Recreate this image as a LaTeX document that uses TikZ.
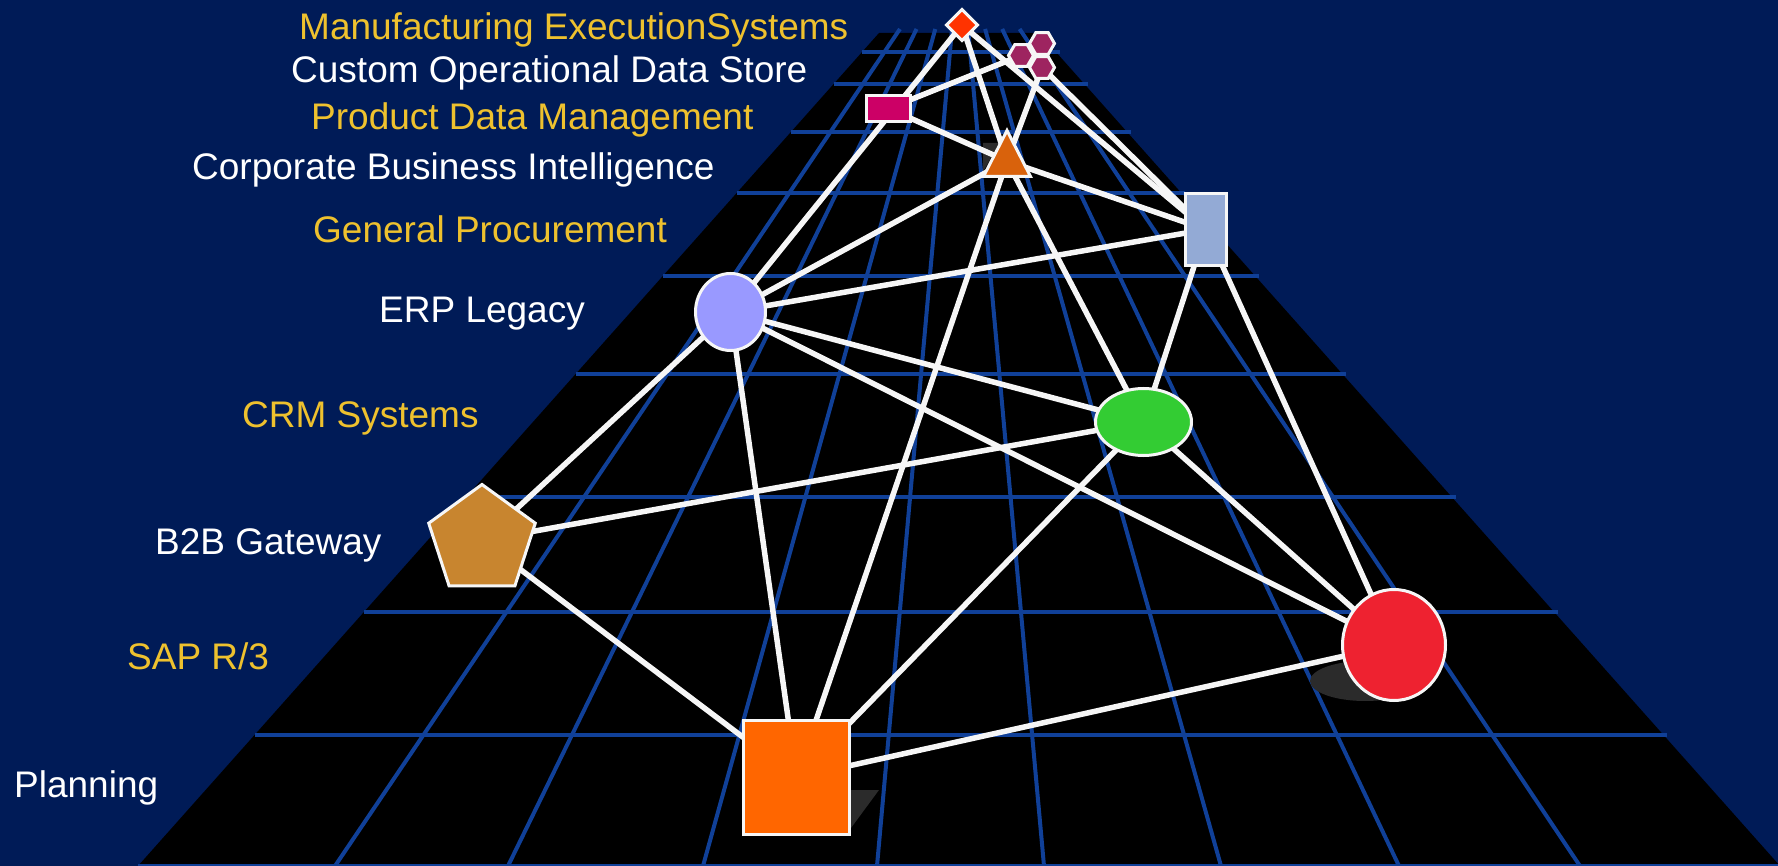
\documentclass[tikz,border=0pt]{standalone}
\usepackage{fontspec}
\setmainfont{Liberation Sans}
\usetikzlibrary{shapes.geometric}
\definecolor{navy}{RGB}{0,27,87}
\definecolor{gridblue}{RGB}{16,64,152}
\definecolor{labelyellow}{RGB}{238,193,46}
\definecolor{shadowgrey}{RGB}{43,43,43}
\definecolor{linkwhite}{RGB}{246,246,246}
\definecolor{mesred}{RGB}{255,51,0}
\definecolor{odspurple}{RGB}{158,36,96}
\definecolor{pdmmagenta}{RGB}{204,0,102}
\definecolor{cbiorange}{RGB}{217,98,12}
\definecolor{gpblue}{RGB}{147,170,213}
\definecolor{erplav}{RGB}{153,153,255}
\definecolor{crmgreen}{RGB}{51,204,51}
\definecolor{b2bbrown}{RGB}{200,133,47}
\definecolor{sapred}{RGB}{238,34,48}
\definecolor{planorange}{RGB}{255,102,0}
\pgfdeclarelayer{floorlayer}
\pgfdeclarelayer{edgelayer}
\pgfsetlayers{floorlayer,edgelayer,main}
\tikzset{
  gridline/.style={draw=gridblue, line width=4},
  link/.style={draw=linkwhite, line width=5.5},
  sysnode/.style={draw=linkwhite, line width=3, inner sep=0pt, outer sep=0pt},
  lab/.style={anchor=base west, inner sep=0pt, font=\fontsize{37}{44}\selectfont},
  yellowlab/.style={lab, text=labelyellow},
  whitelab/.style={lab, text=white},
}
\begin{document}
\begin{tikzpicture}[x=1pt,y=-1pt]
\useasboundingbox (0,0) rectangle (1778,866);

% ---------------- nodes ----------------
\node[sysnode, diamond, fill=mesred, minimum width=31, minimum height=31] (mes) at (962,25) {};
\node[sysnode, regular polygon, regular polygon sides=6, minimum size=25, fill=odspurple] (odsA) at (1021,55.5) {};
\node[sysnode, regular polygon, regular polygon sides=6, minimum size=25, fill=odspurple] (odsB) at (1042,43.5) {};
\node[sysnode, regular polygon, regular polygon sides=6, minimum size=25, fill=odspurple] (odsC) at (1042,67.5) {};
\node[sysnode, rectangle, fill=pdmmagenta, minimum width=44, minimum height=26] (pdm) at (888.5,108.5) {};
\begin{scope}[shift={(1007,161)}, yscale=1.13]
  \node[sysnode, regular polygon, regular polygon sides=3, minimum size=54, fill=cbiorange, transform shape] (cbi) at (0,0) {};
\end{scope}
\node[sysnode, rectangle, fill=gpblue, minimum width=41, minimum height=72] (gp) at (1206,229.5) {};
\node[sysnode, ellipse, fill=erplav, minimum width=70, minimum height=77] (erp) at (730.5,312) {};
\node[sysnode, ellipse, fill=crmgreen, minimum width=96, minimum height=67] (crm) at (1143.5,422) {};
\node[sysnode, regular polygon, regular polygon sides=5, minimum size=112, fill=b2bbrown] (b2b) at (482,540.5) {};
\node[sysnode, ellipse, fill=sapred, minimum width=103, minimum height=111] (sap) at (1394,645) {};
\node[sysnode, rectangle, fill=planorange, minimum width=106, minimum height=114] (plan) at (796.5,777.5) {};

% ---------------- labels ----------------
\node[yellowlab] (lmes) at (299,40) {Manufacturing ExecutionSystems};
\node[whitelab] (lods) at (291,83) {Custom Operational Data Store};
\node[yellowlab] (lpdm) at (311,130) {Product Data Management};
\node[whitelab] (lcbi) at (192,180) {Corporate Business Intelligence};
\node[yellowlab] (lgp) at (313,243) {General Procurement};
\node[whitelab] (lerp) at (379,323) {ERP Legacy};
\node[yellowlab] (lcrm) at (242,428) {CRM Systems};
\node[whitelab] (lb2b) at (155,554) {B2B Gateway};
\node[yellowlab] (lsap) at (127,669) {SAP R/3};
\node[whitelab] (lplan) at (14,797) {Planning};

% ---------------- floor, grid, shadows ----------------
\begin{pgfonlayer}{floorlayer}
  \fill[navy] (0,0) rectangle (1778,866);
  \fill[black] (879,33) -- (1039,33) -- (1780,866) -- (138,866) -- cycle;
  \foreach \b in {335,508,703,877,1044,1221,1399,1580}
    \draw[gridline] ({960+(\b-960)/926*89},29) -- (\b,866);
  \foreach \h in {52,84,132,193,276,374,497,612,735,866}
    \draw[gridline] ({879-0.889*(\h-33)},\h) -- ({1043+0.889*(\h-33)},\h);
  \fill[shadowgrey] (851,790) -- (879,790) -- (851,828) -- cycle;
  \fill[shadowgrey] (1365,681) ellipse [x radius=55, y radius=20];
  \fill[shadowgrey] (983,143) -- (999,143) -- (983,172) -- cycle;
\end{pgfonlayer}

% ---------------- connectors ----------------
\begin{pgfonlayer}{edgelayer}
  \draw[link] (mes.center) -- (erp.center);
  \draw[link] (mes.center) -- (cbi.center);
  \draw[link] (mes.center) -- (gp.center);
  \draw[link] (odsA.center) -- (pdm.center);
  \draw[link] (odsC.center) -- (cbi.center);
  \draw[link] (odsC.center) -- (gp.center);
  \draw[link] (pdm.center) -- (cbi.center);
  \draw[link] (cbi.center) -- (gp.center);
  \draw[link] (cbi.center) -- (erp.center);
  \draw[link] (cbi.center) -- (plan.center);
  \draw[link] (cbi.center) -- (crm.center);
  \draw[link] (erp.center) -- (gp.center);
  \draw[link] (gp.center) -- (crm.center);
  \draw[link] (gp.center) -- (sap.center);
  \draw[link] (erp.center) -- (crm.center);
  \draw[link] (erp.center) -- (sap.center);
  \draw[link] (erp.center) -- (b2b.center);
  \draw[link] (erp.center) -- (plan.center);
  \draw[link] (b2b.center) -- (crm.center);
  \draw[link] (b2b.center) -- (plan.center);
  \draw[link] (crm.center) -- (plan.center);
  \draw[link] (crm.center) -- (sap.center);
  \draw[link] (plan.center) -- (sap.center);
\end{pgfonlayer}
\end{tikzpicture}
\end{document}
